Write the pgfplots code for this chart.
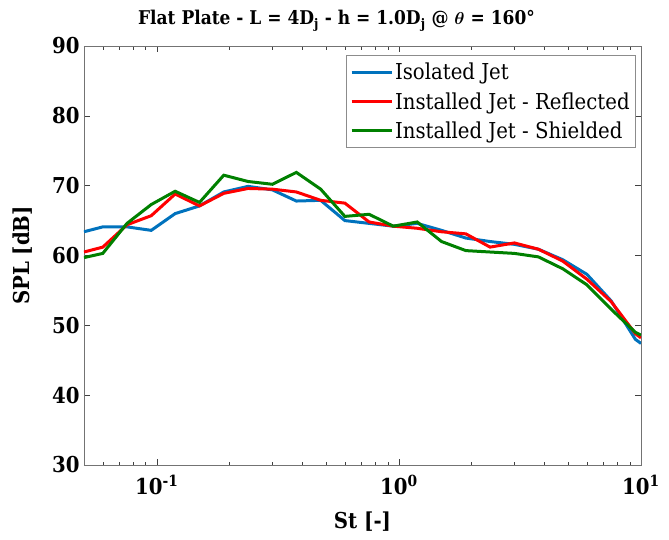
\documentclass[border=0pt]{standalone}
\usepackage{amsmath}
\usepackage{fontspec}
\setmainfont{DejaVu Serif Condensed}
\usepackage{pgfplots}
\pgfplotsset{compat=1.18}
\definecolor{mblue}{rgb}{0,0.447,0.741}
\definecolor{mred}{rgb}{1,0,0}
\definecolor{mgreen}{rgb}{0,0.5,0}
\begin{document}
\begin{tikzpicture}
\useasboundingbox (-84bp,-75bp) rectangle (585bp,465bp);
\begin{axis}[
  scale only axis, width=557bp, height=419bp,
  xmode=log, xmin=0.05, xmax=10, ymin=30, ymax=90,
  xtick={0.1,1,10},
  xticklabels={{10\textsuperscript{-1}},{10\textsuperscript{0}},{10\textsuperscript{1}}},
  minor xtick={0.06,0.07,0.08,0.09,0.2,0.3,0.4,0.5,0.6,0.7,0.8,0.9,2,3,4,5,6,7,8,9},
  ytick={30,40,50,60,70,80,90},
  /pgf/number format/assume math mode=true,
  tick align=inside,
  major tick length=6bp, minor tick length=3.5bp,
  tick style={draw=black!75, line width=0.6bp},
  axis line style={draw=black!55, line width=0.9bp},
  ticklabel style={font=\bfseries\fontsize{22}{26}\selectfont},
  xticklabel style={yshift=-7bp},
  yticklabel style={xshift=-1bp},
  xlabel={St [-]}, ylabel={SPL [dB]},
  label style={font=\bfseries\fontsize{22}{26}\selectfont},
  xlabel style={at={(axis description cs:0.5,-0.134)}, anchor=center},
  ylabel style={at={(axis description cs:-0.111,0.5)}, anchor=center},
  title={Flat Plate - L = 4D\textsubscript{j} - h = 1.0D\textsubscript{j} @ $\boldsymbol{\theta}$ = 160°},
  title style={font=\bfseries\fontsize{19}{23}\selectfont, at={(axis description cs:0.5,1)}, anchor=south, yshift=5bp, xshift=-26bp},
  legend style={at={(0.991,0.9785)}, anchor=north east, draw=black!45, line width=0.6bp,
    font=\fontsize{22}{26}\selectfont, row sep=7bp, inner xsep=4bp, inner ysep=6bp,
    legend cell align=left},
  legend image code/.code={\draw[#1, line width=3bp] (0bp,0bp) -- (40bp,0bp);},
  every axis plot/.append style={line width=3bp},
]
\addplot[mblue] coordinates {
(0.05,63.4)(0.0598,64.1)(0.0753,64.1)(0.0948,63.6)(0.119,66.0)(0.150,67.1)(0.189,69.1)(0.238,69.9)(0.300,69.4)(0.377,67.8)(0.475,67.9)(0.598,65.0)(0.753,64.6)(0.948,64.2)(1.19,64.6)(1.50,63.6)(1.89,62.5)(2.38,62.0)(3.00,61.6)(3.77,60.9)(4.75,59.4)(5.98,57.3)(7.53,53.5)(9.48,48.0)(10,47.4)};
\addlegendentry{Isolated Jet}
\addplot[mred] coordinates {
(0.05,60.5)(0.0598,61.2)(0.0753,64.4)(0.0948,65.7)(0.119,68.8)(0.150,67.1)(0.189,68.9)(0.238,69.6)(0.300,69.5)(0.377,69.1)(0.475,67.9)(0.598,67.5)(0.753,64.8)(0.948,64.2)(1.19,63.9)(1.50,63.4)(1.89,63.1)(2.38,61.2)(3.00,61.8)(3.77,60.9)(4.75,59.2)(5.98,56.6)(7.53,53.4)(9.48,48.8)(10,48.2)};
\addlegendentry{Installed Jet - Reflected}
\addplot[mgreen] coordinates {
(0.05,59.7)(0.0598,60.3)(0.0753,64.6)(0.0948,67.3)(0.119,69.2)(0.150,67.6)(0.189,71.5)(0.238,70.6)(0.300,70.2)(0.377,71.9)(0.475,69.5)(0.598,65.6)(0.753,65.9)(0.948,64.2)(1.19,64.8)(1.50,62.0)(1.89,60.7)(2.38,60.5)(3.00,60.3)(3.77,59.8)(4.75,58.1)(5.98,55.8)(7.53,52.3)(9.48,49.0)(10,48.6)};
\addlegendentry{Installed Jet - Shielded}
\end{axis}
\end{tikzpicture}
\end{document}
